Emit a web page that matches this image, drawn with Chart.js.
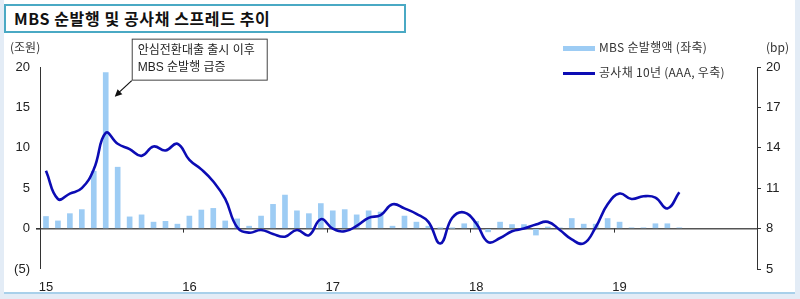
<!DOCTYPE html>
<html>
<head>
<meta charset="utf-8">
<script src="https://cdn.jsdelivr.net/npm/chart.js@4/dist/chart.umd.min.js"></script>
<style>
  html, body { margin: 0; padding: 0; }
  body { width: 800px; height: 299px; background: #e3ecf6; position: relative; overflow: hidden;
         font-family: 'Liberation Sans', 'Noto Sans CJK KR', sans-serif; color: #222; }
  #panel { position: absolute; left: 4px; top: 0; width: 791px; height: 292px; background: #fff;
           border-bottom: 2px solid #a8d0ea; }
  #title { position: absolute; left: 4px; top: 4px; width: 390px; height: 25px; border: 2px solid #4aa9c4;
           background: #fff; font-family: 'Noto Sans CJK KR', sans-serif; font-weight: bold; font-size: 16px;
           letter-spacing: 0.6px; line-height: 25px; padding-left: 8px; box-sizing: content-box; color: #111; }
  .unit { position: absolute; top: 38px; font-size: 12px; font-family: 'Noto Sans CJK KR', sans-serif; color: #333; }
  .leg { position: absolute; left: 563px; font-size: 12px; font-family: 'Noto Sans CJK KR', sans-serif; color: #333;
         letter-spacing: 0.3px; }
  .leg i { display: inline-block; width: 32px; vertical-align: middle; margin-right: 4px; }
  #wrap { position: absolute; left: 0; top: 0; width: 800px; height: 299px; }
</style>
</head>
<body>
<div id="panel"></div>
<div id="wrap"><canvas id="MbsSpread" width="800" height="299"></canvas></div>
<div id="title">MBS 순발행 및 공사채 스프레드 추이</div>
<div class="unit" style="left:10px">(조원)</div>
<div class="unit" style="left:766px">(bp)</div>
<div class="leg" style="top:38px"><i style="height:5px;background:#9dccf4"></i>MBS 순발행액 (좌축)</div>
<div class="leg" style="top:63px"><i style="height:3px;background:#0c0cb4"></i>공사채 10년 (AAA, 우축)</div>
<script>
// 2015.01 ~ 2019.12 monthly
const years = ['15', '16', '17', '18', '19'];
const months = ['01', '02', '03', '04', '05', '06', '07', '08', '09', '10', '11', '12'];

// MBS net issuance (trillion won, left axis)
const mbsNetIssue = [
  1.5, 0.95, 1.85, 2.35, 7.1, 19.3, 7.6, 1.45, 1.7, 0.8, 0.9, 0.55,
  1.55, 2.3, 2.5, 0.95, 1.2, 0.3, 1.55, 3.0, 4.15, 2.2, 1.85, 3.1,
  2.2, 2.35, 1.7, 2.2, 2.05, 0.3, 1.55, 0.8, 0.3, 0.05, 0.05, 0.6,
  0.9, -0.4, 0.8, 0.5, 0.5, -0.8, 0.2, 0.1, 1.25, 0.55, 0.55, 1.25,
  0.8, 0.1, 0.1, 0.6, 0.6, 0.1, null, null, null, null, null, null
];

// public corp bond 10y (AAA) spread, bp (right axis)
const bondSpread = [
  12.3, 10.2, 10.6, 11.0, 12.4, 15.1, 14.3, 13.9, 13.4, 14.1, 13.8, 14.3,
  13.1, 12.4, 11.5, 10.2, 8.1, 7.7, 7.9, 7.6, 7.4, 7.9, 7.5, 8.7,
  8.0, 7.8, 8.2, 8.8, 9.0, 9.8, 9.5, 9.1, 8.5, 6.9, 8.8, 9.2,
  8.4, 7.0, 7.3, 7.8, 8.0, 8.3, 8.5, 7.9, 7.2, 6.9, 8.1, 9.8,
  10.6, 10.2, 10.4, 10.3, 9.5, 10.7, null, null, null, null, null, null
];

const leftTicks = [-5, 0, 5, 10, 15, 20];
const rightTicks = [5, 8, 11, 14, 17, 20];

const categories = [];
years.forEach(y => months.forEach(m => categories.push(y + '.' + m)));

const peakIndex = mbsNetIssue.indexOf(Math.max(...mbsNetIssue.filter(v => v !== null)));

const extras = {
  id: 'extras',
  afterDatasetsDraw(chart) {
    const c = chart.ctx, x = chart.scales.x, yl = chart.scales.yL;
    const y0 = yl.getPixelForValue(0);
    c.save();
    // year tick marks on the zero line
    c.strokeStyle = '#333';
    c.lineWidth = 1;
    categories.forEach((lab, i) => {
      if (i > 0 && lab.endsWith('.01')) {
        const px = Math.round((x.getPixelForValue(i) + x.getPixelForValue(i - 1)) / 2) + 0.5;
        c.beginPath(); c.moveTo(px, y0); c.lineTo(px, y0 + 4); c.stroke();
      }
    });
    // annotation box + arrow pointing at the peak bar
    const bx = x.getPixelForValue(peakIndex), by = yl.getPixelForValue(mbsNetIssue[peakIndex]);
    const tipX = bx + 9, tipY = by + 24;
    const boxL = bx + 26, boxT = by - 34;
    c.fillStyle = '#fff';
    c.fillRect(boxL, boxT, 135, 41);
    c.strokeStyle = '#444';
    c.strokeRect(boxL + 0.5, boxT + 0.5, 135, 41);
    c.fillStyle = '#222';
    c.font = "12px 'Liberation Sans', 'Noto Sans CJK KR', sans-serif";
    c.textBaseline = 'middle';
    c.fillText('안심전환대출 출시 이후', boxL + 6, boxT + 12);
    c.fillText('MBS 순발행 급증', boxL + 6, boxT + 29);
    const sx = boxL, sy = boxT + 42;
    c.strokeStyle = '#111';
    c.lineWidth = 1.2;
    c.beginPath(); c.moveTo(sx, sy); c.lineTo(tipX + 4, tipY - 4); c.stroke();
    const ang = Math.atan2(tipY - sy, tipX - sx);
    c.beginPath();
    c.moveTo(tipX, tipY);
    c.lineTo(tipX - 8 * Math.cos(ang - 0.45), tipY - 8 * Math.sin(ang - 0.45));
    c.lineTo(tipX - 8 * Math.cos(ang + 0.45), tipY - 8 * Math.sin(ang + 0.45));
    c.closePath();
    c.fillStyle = '#111';
    c.fill();
    c.restore();
  }
};

const tickFont = { family: "'Liberation Sans', sans-serif", size: 13 };

new Chart(document.getElementById('MbsSpread'), {
  type: 'bar',
  data: {
    labels: categories,
    datasets: [{
      type: 'line',
      label: '공사채 10년 (AAA, 우축)',
      data: bondSpread,
      yAxisID: 'yR',
      borderColor: '#0c0cb4',
      borderWidth: 2.6,
      pointRadius: 0,
      tension: 0.45,
      order: 0
    }, {
      type: 'bar',
      label: 'MBS 순발행액 (좌축)',
      data: mbsNetIssue,
      yAxisID: 'yL',
      backgroundColor: '#9dccf4',
      barThickness: 5,
      order: 1
    }]
  },
  options: {
    responsive: false,
    animation: false,
    layout: { padding: { top: 67, left: 0, right: 0, bottom: 0 } },
    plugins: { legend: { display: false }, tooltip: { enabled: false } },
    scales: {
      x: {
        grid: { display: false },
        border: { display: false },
        ticks: {
          autoSkip: false, maxRotation: 0, padding: 3, color: '#222', font: tickFont,
          callback: function(v, i) { const l = categories[i]; return l.endsWith('.01') ? l.slice(0, 2) : ''; }
        },
        afterFit: s => { s.height = 30; }
      },
      yL: {
        position: 'left',
        min: -5, max: 20,
        afterBuildTicks: s => { s.ticks = leftTicks.map(v => ({ value: v })); },
        ticks: { padding: 6, color: '#222', font: tickFont,
                 callback: v => v < 0 ? '(' + (-v) + ')' : v },
        grid: {
          drawOnChartArea: true, tickLength: 4, tickColor: '#333',
          color: c => c.tick && c.tick.value === 0 ? '#555' : 'rgba(0,0,0,0)',
          lineWidth: c => c.tick && c.tick.value === 0 ? 1.6 : 0
        },
        border: { display: true, color: '#333', width: 1 },
        afterFit: s => { s.width = 40; }
      },
      yR: {
        position: 'right',
        min: 5, max: 20,
        afterBuildTicks: s => { s.ticks = rightTicks.map(v => ({ value: v })); },
        ticks: { padding: 5, color: '#222', font: tickFont },
        grid: { drawOnChartArea: false, tickLength: 4, tickColor: '#333' },
        border: { display: true, color: '#333', width: 1 },
        afterFit: s => { s.width = 43; }
      }
    }
  },
  plugins: [extras]
});
</script>
</body>
</html>
